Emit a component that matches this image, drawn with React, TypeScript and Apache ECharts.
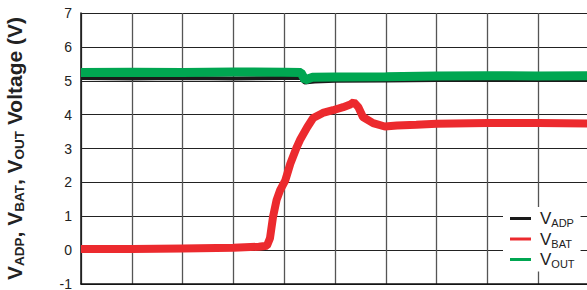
import React, { useEffect, useRef } from "react";
import * as echarts from "echarts";

const xTicks = [0, 1, 2, 3, 4, 5, 6, 7, 8, 9, 10];
const yTicks = [-1, 0, 1, 2, 3, 4, 5, 6, 7];

const seriesNames = ["VADP", "VBAT", "VOUT"];
const subscripts = ["ADP", "BAT", "OUT"];

const vadp: [number, number][] = [
  [0, 5.08], [1, 5.07], [2, 5.08], [3, 5.07], [4, 5.08], [4.33, 5.08],
  [4.4, 4.95], [4.6, 4.98], [5, 5.0], [6, 5.01], [7, 5.02], [8, 5.02], [9, 5.02], [10, 5.02],
];

const vbat: [number, number][] = [
  [0, 0.03], [1, 0.03], [2, 0.05], [3, 0.07], [3.5, 0.1], [3.66, 0.13],
  [3.72, 0.35], [3.78, 0.98], [3.85, 1.48], [3.92, 1.77], [4.02, 2.05],
  [4.12, 2.55], [4.25, 3.05], [4.31, 3.25], [4.45, 3.62], [4.57, 3.9],
  [4.76, 4.05], [4.96, 4.13], [5.16, 4.22], [5.3, 4.3], [5.37, 4.37],
  [5.46, 4.22], [5.55, 3.93], [5.75, 3.75], [5.98, 3.65], [6.22, 3.68],
  [6.6, 3.7], [7, 3.73], [8, 3.75], [9, 3.75], [10, 3.74],
];

const vout: [number, number][] = [
  [0, 5.24], [1, 5.25], [2, 5.24], [3, 5.26], [4, 5.25], [4.33, 5.24],
  [4.41, 5.02], [4.55, 5.1], [5, 5.11], [6, 5.12], [7, 5.14], [8, 5.15], [9, 5.14], [10, 5.15],
];

const colors = ["#1a1a1a", "#ec2a2e", "#00a651"];
const widths = [4, 8, 9];
const FONT = "'Liberation Sans', Arial, Helvetica, sans-serif";

export default function App() {
  const ref = useRef<HTMLDivElement>(null);
  useEffect(() => {
    if (!ref.current) return;
    const chart = echarts.init(ref.current, undefined, { renderer: "svg" });
    const datasets = [vadp, vbat, vout];
    chart.setOption({
      animation: false,
      backgroundColor: "#ffffff",
      textStyle: { fontFamily: FONT },
      grid: { left: 81, right: -2, top: 13, bottom: 6, containLabel: false, outerBoundsMode: "none" },
      xAxis: {
        type: "value",
        min: xTicks[0],
        max: xTicks[xTicks.length - 1],
        interval: 1,
        axisLine: { show: true, onZero: false, lineStyle: { color: "#111", width: 1.5 } },
        axisTick: { show: false },
        axisLabel: { show: false },
        splitLine: { show: true, lineStyle: { color: "#555", width: 1.3 } },
      },
      yAxis: {
        type: "value",
        min: yTicks[0],
        max: yTicks[yTicks.length - 1],
        interval: 1,
        axisLine: { show: true, lineStyle: { color: "#111", width: 1.5 } },
        axisTick: { show: false },
        axisLabel: { color: "#222", fontSize: 14, margin: 9, fontFamily: FONT },
        splitLine: { show: true, lineStyle: { color: "#222", width: 1.2 } },
        name: "{v|V}{s|ADP}{v|, V}{s|BAT}{v|, V}{s|OUT}{v| Voltage (V)}",
        nameLocation: "middle",
        nameRotate: 90,
        nameGap: 55,
        nameTextStyle: {
          color: "#222",
          fontFamily: FONT,
          rich: {
            v: { fontSize: 21, fontWeight: "bold", lineHeight: 23, fontFamily: FONT, color: "#222" },
            s: { fontSize: 13.5, fontWeight: "bold", lineHeight: 11, verticalAlign: "bottom", fontFamily: FONT, color: "#222" },
          },
        },
      },
      legend: {
        orient: "vertical",
        left: 503,
        top: 207,
        backgroundColor: "#ffffff",
        padding: [3, 6, 2, 7],
        itemGap: 2,
        itemWidth: 21,
        itemHeight: 3,
        icon: "rect",
        data: seriesNames,
        formatter: (name: string) => `{v|V}{s|${subscripts[seriesNames.indexOf(name)]}}`,
        textStyle: {
          color: "#222",
          fontFamily: FONT,
          padding: [0, 0, 0, 4],
          rich: {
            v: { fontSize: 17, lineHeight: 20, fontFamily: FONT, color: "#222" },
            s: { fontSize: 11, lineHeight: 10, verticalAlign: "bottom", fontFamily: FONT, color: "#222" },
          },
        },
      },
      series: seriesNames.map((n, i) => ({
        name: n,
        type: "line",
        data: datasets[i],
        showSymbol: false,
        symbol: "none",
        smooth: false,
        z: i === 2 ? 4 : i === 1 ? 3 : 2,
        lineStyle: { color: colors[i], width: widths[i] },
        itemStyle: { color: colors[i] },
      })),
    });
    return () => chart.dispose();
  }, []);
  return (
    <div
      ref={ref}
      style={{ position: "fixed", left: 0, top: 0, width: 587, height: 290, background: "#fff" }}
    />
  );
}
